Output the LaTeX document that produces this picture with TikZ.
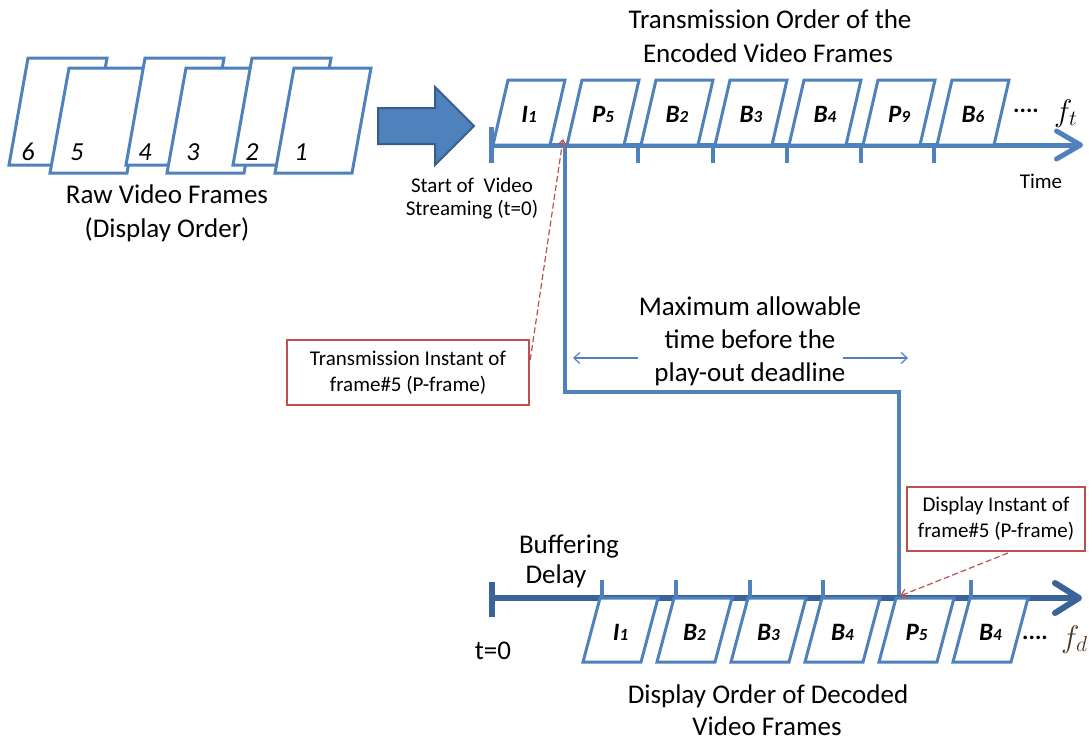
\documentclass[tikz,border=0pt]{standalone}
\usepackage{fontspec}
\usepackage{graphicx}
\setmainfont{Carlito}
\usetikzlibrary{arrows.meta}
\definecolor{fblue}{HTML}{4F81BD}
\definecolor{dblue}{HTML}{385D8A}
\definecolor{axblue}{HTML}{3A6399}
\definecolor{fred}{HTML}{C0504D}
\definecolor{fbrown}{HTML}{4A3520}
\newcommand\myfs[1]{\fontsize{#1pt}{\dimexpr #1pt*6/5\relax}\selectfont}
\begin{document}
\begin{tikzpicture}[x=1pt,y=-1pt,
  frm/.style={draw=fblue, line width=3pt, fill=white, line join=miter},
  big/.style={inner sep=0pt, anchor=base, font=\myfs{27}},
  sml/.style={inner sep=0pt, anchor=base, font=\myfs{21}},
  flab/.style={inner sep=0pt, font=\myfs{25}\bfseries\itshape},
  rawnum/.style={inner sep=0pt, font=\myfs{26}\itshape},
  redbox/.style={draw=fred, line width=2.5pt, fill=white, inner sep=0pt, align=center, font=\fontsize{21pt}{26pt}\selectfont},
  topaxis/.style={draw=fblue, line width=5pt, -{Straight Barb[length=24pt,width=28pt,round]}},
  botaxis/.style={draw=axblue, line width=6pt, -{Straight Barb[length=24pt,width=30pt,round]}},
  tick/.style={draw=fblue, line width=3.5pt},
  stepline/.style={draw=fblue, line width=4.5pt, line join=miter},
  thinarrow/.style={draw=fblue, line width=1.2pt, -{Straight Barb[length=6pt,width=11pt]}},
  reddash/.style={draw=fred, line width=1.2pt, dash pattern=on 6pt off 3pt, -{Straight Barb[length=6pt,width=9pt]}},
  dots/.style={inner sep=0pt, font=\myfs{24}\bfseries},
  fsym/.style={inner sep=0pt, anchor=base west, font=\myfs{25}}
]
\useasboundingbox (0,0) rectangle (1089,740);

% ---------- raw frames ----------
\draw[frm] (9,165) -- ++(79,0) -- ++(19,-107) -- ++(-79,0) -- cycle;
\node[rawnum] (n6) at (28,152) {6};
\draw[frm] (50,173) -- ++(77,0) -- ++(19,-105) -- ++(-77,0) -- cycle;
\node[rawnum] (n5) at (77,152) {5};
\draw[frm] (126,165) -- ++(79,0) -- ++(19,-107) -- ++(-79,0) -- cycle;
\node[rawnum] (n4) at (145,152) {4};
\draw[frm] (167,173) -- ++(77,0) -- ++(19,-105) -- ++(-77,0) -- cycle;
\node[rawnum] (n3) at (193,152) {3};
\draw[frm] (233,165) -- ++(79,0) -- ++(19,-107) -- ++(-79,0) -- cycle;
\node[rawnum] (n2) at (252,152) {2};
\draw[frm] (275,173) -- ++(77,0) -- ++(19,-105) -- ++(-77,0) -- cycle;
\node[rawnum] (n1) at (301,152) {1};
\node[big] (raw1) at (167,203) {Raw Video Frames};
\node[big] (raw2) at (167,237) {(Display Order)};

% ---------- big arrow ----------
\draw[fill=fblue, draw=dblue, line width=2pt, line join=miter]
  (378,108) -- (435,108) -- (435,87) -- (474,126) -- (435,165) -- (435,144) -- (378,144) -- cycle;

% ---------- top titles ----------
\node[big] (tt1) at (770,28) {Transmission Order of the};
\node[big] (tt2) at (768,62) {Encoded Video Frames};

% ---------- top axis ----------
\coordinate (ta0) at (491,145);
\coordinate (ta1) at (1083,145);
\draw[topaxis] (ta0) -- (ta1);
\draw[draw=fblue, line width=5pt] (491,127) -- (491,163);
\foreach \x in {638,713,787,861,934}{\draw[tick] (\x,145) -- (\x,163);}

% ---------- step line ----------
\coordinate (s0) at (565,145);
\coordinate (s1) at (565,392);
\coordinate (s2) at (899,392);
\coordinate (s3) at (899,598);
\draw[stepline] (s0) -- (s1) -- (s2) -- (s3);

% ---------- top frames ----------
\foreach \L/\N [count=\k from 0] in {I/1,P/5,B/2,B/3,B/4,P/9,B/6}{
  \pgfmathsetmacro\bx{493+74*\k}
  \draw[frm] (\bx,145) -- ++(57,0) -- ++(15,-65) -- ++(-57,0) -- cycle;
  \node[flab] (tf\k) at (\bx+36,114) {\L{\myfs{17}\N}};
}
\node[dots] (tdots) at (1026,111) {....};
\node[fsym] (ft) at (1054,121) {\scalebox{1.25}{$f_t$}};
\node[sml] (time) at (1041,188) {Time};
\node[sml] (st1) at (472,192) {Start of~~Video};
\node[sml] (st2) at (472,215) {Streaming (t=0)};

% ---------- middle ----------
\node[big] (m1) at (750,315) {Maximum allowable};
\node[big] (m2) at (750,348) {time before the};
\node[big] (m3) at (750,381) {play-out deadline};
\coordinate (la0) at (638,358);
\coordinate (la1) at (573,358);
\coordinate (ra0) at (843,358);
\coordinate (ra1) at (908,358);
\draw[thinarrow] (la0) -- (la1);
\draw[thinarrow] (ra0) -- (ra1);

\node[redbox, minimum width=242pt, minimum height=65pt] (lbox) at (408,372.5)
  {Transmission Instant of\\frame\#5 (P-frame)};
\coordinate (p5t) at (563,139);
\draw[reddash] (lbox.east |- 0,360) -- (p5t);

% ---------- bottom axis ----------
\coordinate (ba0) at (492,598);
\coordinate (ba1) at (1082,598);
\draw[botaxis] (ba0) -- (ba1);
\draw[draw=axblue, line width=6pt] (492,582) -- (492,617);
\foreach \x in {602,676,750,823,971}{\draw[tick] (\x,580) -- (\x,598);}

% ---------- bottom frames ----------
\foreach \L/\N [count=\k from 0] in {I/1,B/2,B/3,B/4,P/5,B/4}{
  \pgfmathsetmacro\bx{583+74*\k}
  \draw[frm] (\bx,662) -- ++(58,0) -- ++(17,-64) -- ++(-58,0) -- cycle;
  \node[flab] (bf\k) at (\bx+37.5,632) {\L{\myfs{17}\N}};
}
\node[dots] (bdots) at (1035,638) {....};
\node[fsym, color=fbrown] (fd) at (1061,647) {\scalebox{1.25}{$f_d$}};

\node[big] (bd1) at (569,553) {Buffering};
\node[big] (bd2) at (556,583) {Delay};
\node[big] (t0) at (493,659) {t=0};
\node[big] (do1) at (768,703) {Display Order of Decoded};
\node[big] (do2) at (767,735) {Video Frames};

\node[redbox, minimum width=178pt, minimum height=64pt] (rbox) at (996,519)
  {Display Instant of\\frame\#5 (P-frame)};
\coordinate (p5d) at (900,596);
\draw[reddash] (rbox.south |- 0,553) ++(12,0) -- (p5d);
\end{tikzpicture}
\end{document}
